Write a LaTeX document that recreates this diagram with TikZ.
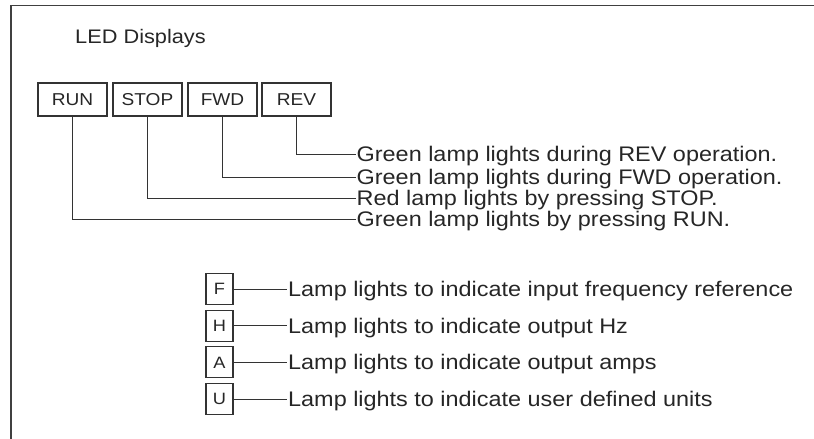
\documentclass[tikz,border=0pt]{standalone}
\usepackage{fontspec}
\setmainfont[FakeStretch=1.11]{Liberation Sans}
\begin{document}
\begin{tikzpicture}[x=1pt,y=-1pt,
    ledbox/.style={draw=black!80,line width=1.1pt,minimum width=69pt,minimum height=33pt,inner sep=0pt,font=\fontsize{17.2}{19}\selectfont,text=black!85},
    flagbox/.style={draw=black!80,line width=1.1pt,minimum width=27pt,minimum height=31pt,inner sep=0pt,font=\fontsize{16.4}{18}\selectfont,text=black!85},
    note/.style={anchor=west,inner xsep=1pt,inner ysep=0pt,text height=15.1pt,text depth=0pt,font=\fontsize{21.1}{23}\selectfont,text=black!85},
    lead/.style={draw=black!80,line width=1pt}]
    \useasboundingbox (0,0) rectangle (814,439);

    % Outer frame (top and left edges only)
    \draw[black!75,line width=1.8pt] (11,439) -- (11,5.5) -- (814,5.5);
    \node[anchor=base west,inner sep=0pt,font=\fontsize{19.6}{22}\selectfont,text=black!85] (title) at (75,43.3) {LED Displays};

    % Status lamps
    \node[ledbox] (run) at (72.5,99.5) {RUN};
    \node[ledbox] (stop) at (147.5,99.5) {STOP};
    \node[ledbox] (fwd) at (222.5,99.5) {FWD};
    \node[ledbox] (rev) at (296.5,99.5) {REV};

    % Status lamp descriptions
    \node[note] (revtxt) at (355.5,154) {Green lamp lights during REV operation.};
    \node[note] (fwdtxt) at (355.5,177) {Green lamp lights during FWD operation.};
    \node[note] (stoptxt) at (355.5,198) {Red lamp lights by pressing STOP.};
    \node[note] (runtxt) at (355.5,219) {Green lamp lights by pressing RUN.};

    \draw[lead] (rev.south) |- (revtxt.west);
    \draw[lead] (fwd.south) |- (fwdtxt.west);
    \draw[lead] (stop.south) |- (stoptxt.west);
    \draw[lead] (run.south) |- (runtxt.west);

    % Unit lamps
    \node[flagbox] (fbox) at (219.5,289) {F};
    \node[flagbox] (hbox) at (219.5,325.7) {H};
    \node[flagbox] (abox) at (219.5,362.4) {A};
    \node[flagbox] (ubox) at (219.5,399.1) {U};

    \node[note] (ftxt) at (287,289) {Lamp lights to indicate input frequency reference};
    \node[note] (htxt) at (287,325.7) {Lamp lights to indicate output Hz};
    \node[note] (atxt) at (287,362.4) {Lamp lights to indicate output amps};
    \node[note] (utxt) at (287,399.1) {Lamp lights to indicate user defined units};

    \draw[lead] (fbox.east) -- (ftxt.west);
    \draw[lead] (hbox.east) -- (htxt.west);
    \draw[lead] (abox.east) -- (atxt.west);
    \draw[lead] (ubox.east) -- (utxt.west);
\end{tikzpicture}
\end{document}
